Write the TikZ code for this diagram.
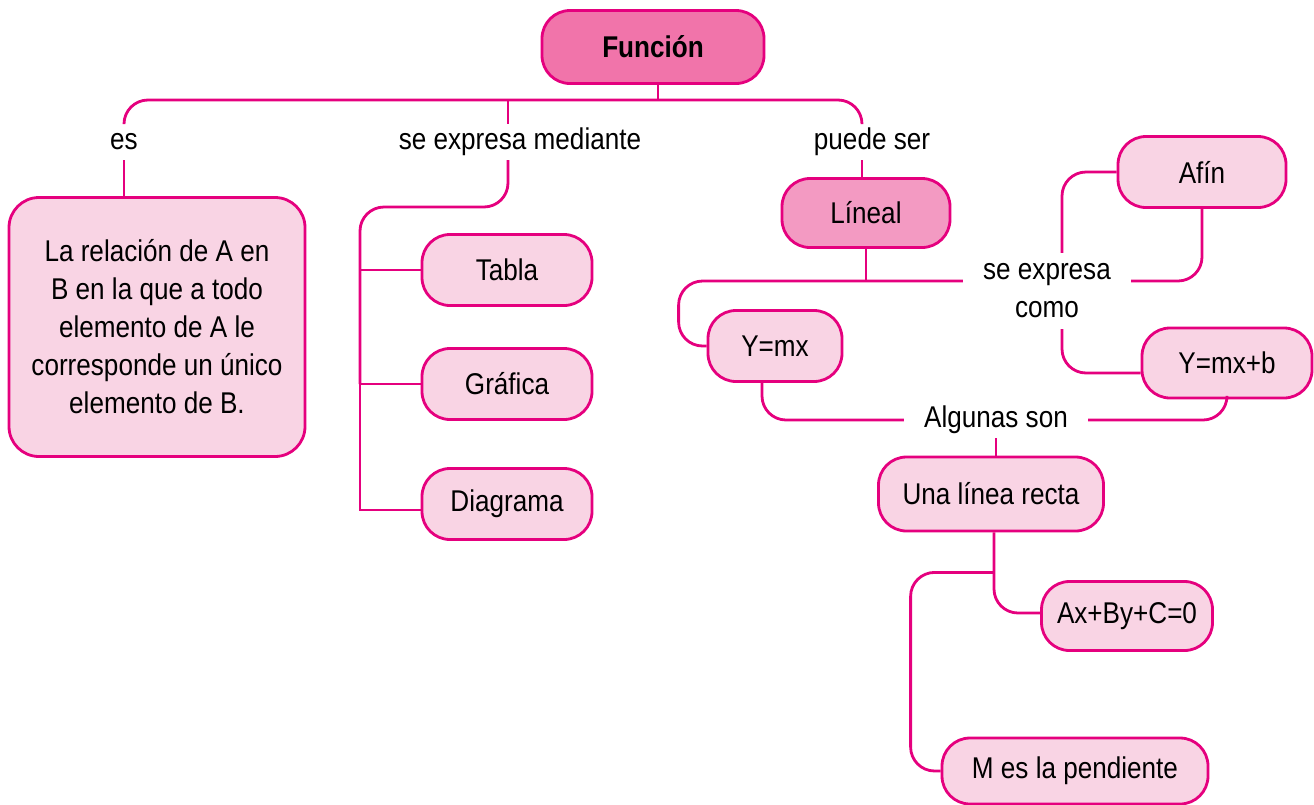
\documentclass[tikz,border=0pt]{standalone}
\usepackage{fontspec}
\setmainfont{Liberation Sans}[FakeStretch=0.87]
\usepackage{tikz}

\definecolor{magenta}{RGB}{229,0,126}
\definecolor{rosa}{RGB}{249,212,228}
\definecolor{rosafun}{RGB}{241,116,170}
\definecolor{rosalin}{RGB}{243,154,194}

\begin{document}
\begin{tikzpicture}[x=1pt,y=-1pt,
  every node/.style={font=\fontsize{30}{38}\selectfont},
  caja/.style={draw=magenta, line width=2.8pt, fill=rosa, rounded corners=28pt,
    inner sep=0pt, minimum height=71pt},
  enlace/.style={draw=magenta, line width=2.8pt, rounded corners=24pt},
  etiq/.style={inner xsep=20pt, inner ysep=0pt, minimum height=36pt}]
\useasboundingbox (0,0) rectangle (1314,804);
\node[caja, fill=rosafun, minimum width=222pt, minimum height=73pt] (fun) at (653,47) {\bfseries Función};
\coordinate (bus) at (658,100);
\node[etiq] (es) at (124,142) {es};
\node[etiq] (sem) at (520,142) {se expresa mediante};
\node[etiq] (pue) at (872,142) {puede ser};
\node[caja, minimum width=296pt, minimum height=259pt, rounded corners=30pt, align=center] (rel) at (157,327)
  {La relación de A en\\B en la que a todo\\elemento de A le\\corresponde un único\\elemento de B.};
\foreach \n/\y/\t in {tab/270/Tabla, gra/384/Gráfica, dia/504/Diagrama}
  \node[caja, minimum width=170pt] (\n) at (507,\y) {\t};
\node[caja, fill=rosalin, minimum width=168pt, minimum height=69pt] (lin) at (866,213) {Líneal};
\node[caja, minimum width=168pt] (afi) at (1202,172) {Afín};
\node[etiq, align=center, minimum height=76pt] (sec) at (1047,291) {se expresa\\como};
\node[caja, minimum width=134pt] (ym) at (775,346) {Y=mx};
\node[caja, minimum width=170pt, minimum height=70pt] (ymb) at (1227,363) {Y=mx+b};
\node[etiq] (alg) at (996,420) {Algunas son};
\node[caja, minimum width=225pt, minimum height=74pt] (una) at (991,494) {Una línea recta};
\node[caja, minimum width=171pt, minimum height=69pt] (ax) at (1127,616) {Ax+By+C=0};
\node[caja, minimum width=266pt, minimum height=66pt] (mp) at (1075,771) {M es la pendiente};

% ramas de Funcion
\draw[enlace] (fun.south -| bus) -- (bus);
\draw[enlace] (es.north) |- (bus) -| ([xshift=-10pt]pue.north);
\draw[enlace] ([xshift=-12pt]sem.north) -- ([xshift=-12pt]sem.north |- bus);
\draw[enlace] (es.south) -- (es.south |- rel.north);
\draw[enlace] ([xshift=-10pt]pue.south) -- ([xshift=-10pt]pue.south |- lin.north);
\coordinate (sx) at (360,207);
\draw[enlace] ([xshift=-12pt]sem.south) |- (sx) -- (sx |- gra.west);
\draw[enlace, sharp corners] (sx |- tab.west) |- ([yshift=-6pt]dia.west);
\foreach \n in {tab,gra}
  \draw[enlace] (\n.west) -- (\n.west -| sx);

% lineal y afin
\coordinate (lj) at (866,281);
\draw[enlace] (lin.south) -- (lj);
\draw[enlace] (sec.west |- lj) -| ([xshift=-28pt]ym.west) -- (ym.west);
\draw[enlace] (sec.east |- lj) -| (afi.south);
\draw[enlace] (afi.west) -| ([xshift=15pt]sec.north);
\draw[enlace] ([xshift=15pt]sec.south) |- ([yshift=-10pt]ymb.west);
\draw[enlace] (alg.west) -| ([xshift=-13pt]ym.south);
\draw[enlace] (alg.east) -| (ymb.south);
\draw[enlace] (alg.south) -- (alg.south |- una.north);

% linea recta
\path (una.south) ++(3,40) coordinate (mj);
\draw[enlace] ([xshift=3pt]una.south) |- ([yshift=3pt]ax.west);
\draw[enlace] (mj) -| ([xshift=-30pt]mp.west) -- (mp.west);
\end{tikzpicture}
\end{document}
